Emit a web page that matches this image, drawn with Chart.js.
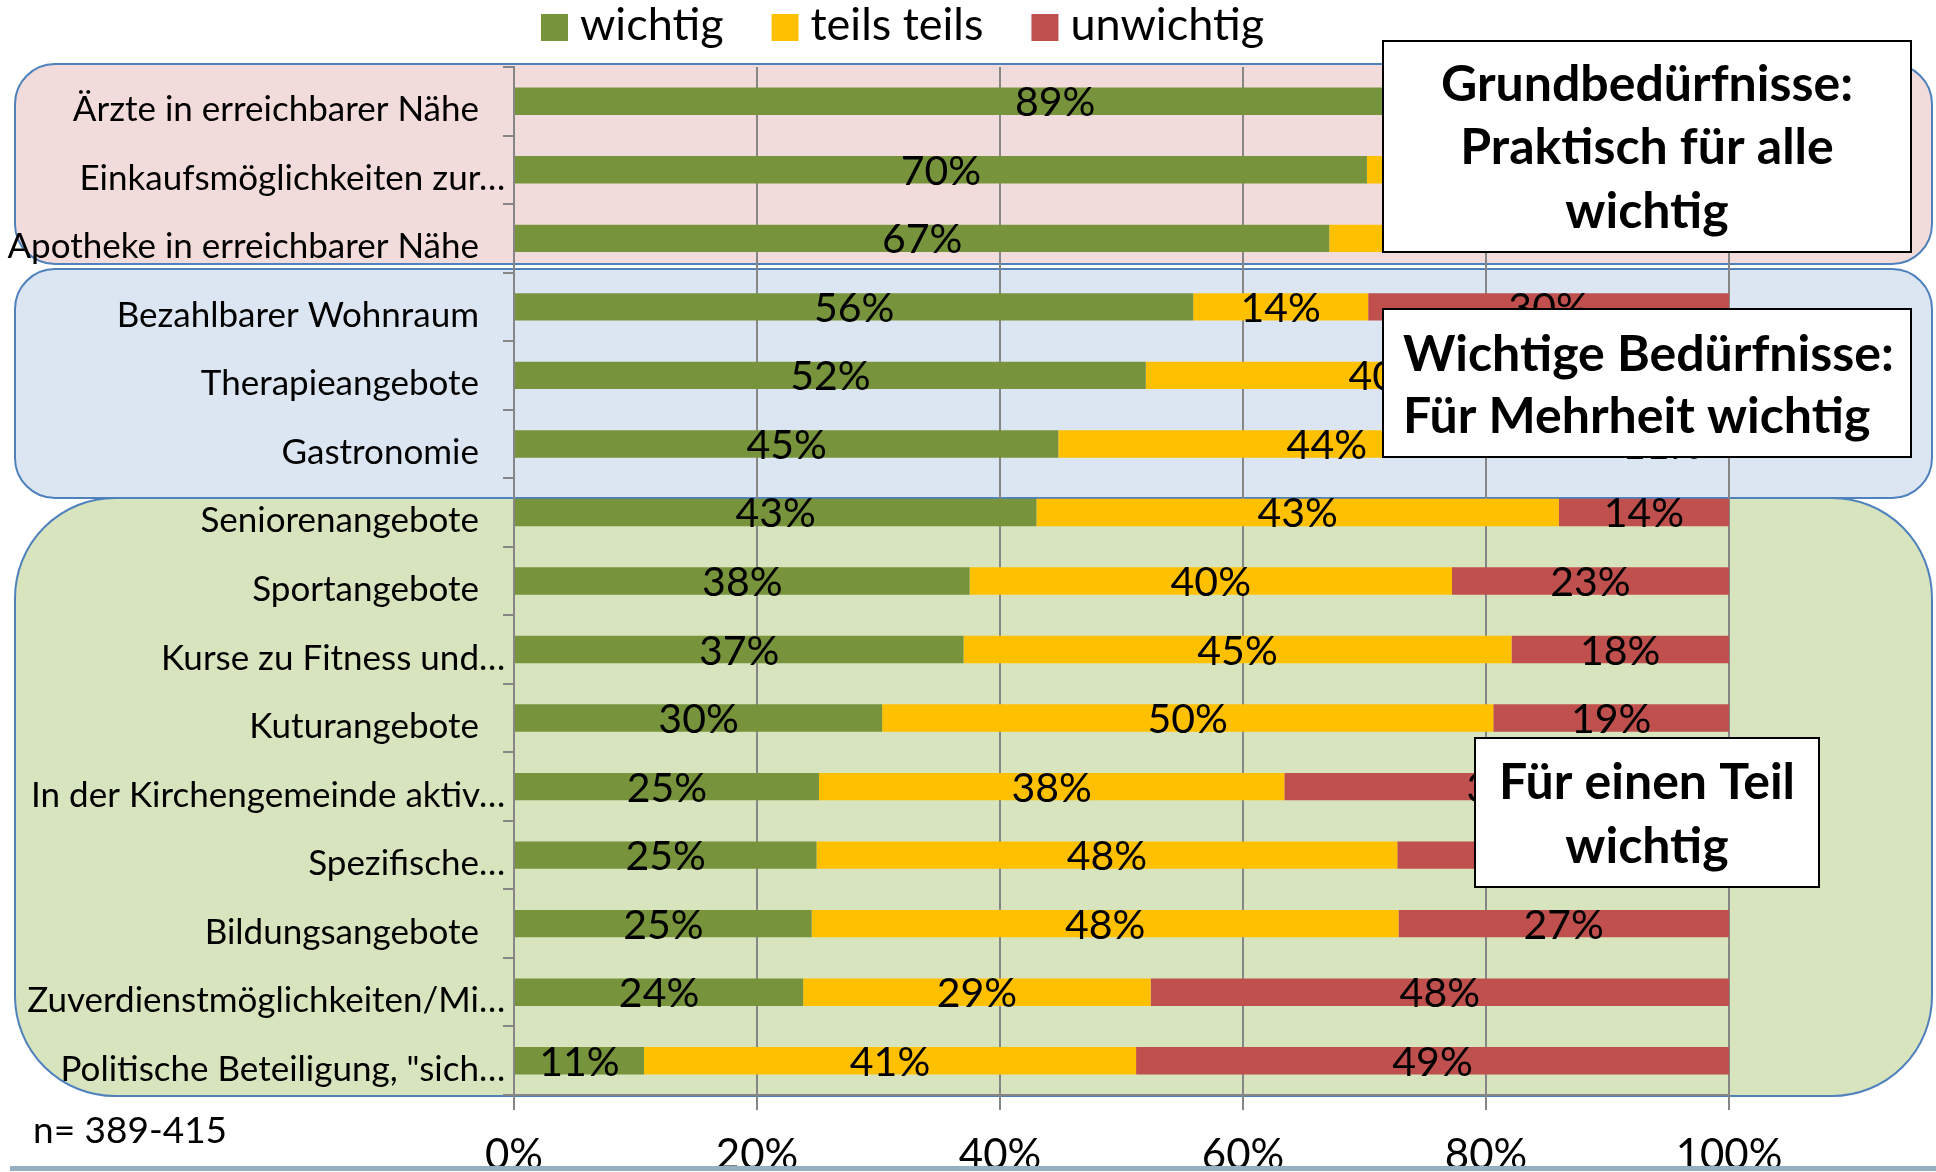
<!DOCTYPE html>
<html>
<head>
<meta charset="utf-8">
<script src="https://cdn.jsdelivr.net/npm/chart.js@4.4.1/dist/chart.umd.min.js"></script>
<style>
  body { margin: 0; background: #fff; }
  canvas { display: block; }
</style>
</head>
<body>
<canvas id="chart" width="1936" height="1172"></canvas>
<script>
var categories = [
    'Ärzte in erreichbarer Nähe',
    'Einkaufsmöglichkeiten zur…',
    'Apotheke in erreichbarer Nähe',
    'Bezahlbarer Wohnraum',
    'Therapieangebote',
    'Gastronomie',
    'Seniorenangebote',
    'Sportangebote',
    'Kurse zu Fitness und…',
    'Kuturangebote',
    'In der Kirchengemeinde aktiv…',
    'Spezifische…',
    'Bildungsangebote',
    'Zuverdienstmöglichkeiten/Mi…',
    'Politische Beteiligung, "sich…'
];
var seriesNames = ['wichtig', 'teils teils', 'unwichtig'];
var wichtig   = [89, 70.2, 67.1, 55.9, 52.0, 44.8, 43.0, 37.5, 37.0, 30.3, 25.1, 24.9, 24.5, 23.8, 10.7];
var teils     = [9, 25, 28, 14.4, 40, 44.2, 43, 39.7, 45.1, 50.3, 38.3, 47.8, 48.3, 28.6, 40.5];
var unwichtig = [2, 4.8, 4.9, 29.7, 8, 11, 14, 22.8, 17.9, 19.4, 36.6, 27.3, 27.2, 47.6, 48.8];
var xTicks = [0, 20, 40, 60, 80, 100];
var sampleNote = 'n= 389-415';

var FONT = 'Lato, "Open Sans", sans-serif';
var colors = ['#77933c', '#ffc000', '#c0504d'];

// background group panels (pink / blue / green)
var groups = [
    { x: 15, y: 64, w: 1917, h: 200, r: 40, fill: '#f2dcdb' },
    { x: 15, y: 269, w: 1917, h: 229, r: 40, fill: '#dce6f2' },
    { x: 15, y: 498, w: 1917, h: 598, r: 100, fill: '#d7e4bd' }
];

// white annotation boxes
var notes = [
    { x: 1383, y: 41, w: 528, h: 211, align: 'center', lines: ['Grundbedürfnisse:', 'Praktisch für alle', 'wichtig'], base: [101, 164, 228] },
    { x: 1383, y: 309, w: 528, h: 148, align: 'left', lines: ['Wichtige Bedürfnisse:', 'Für Mehrheit wichtig'], base: [371, 433] },
    { x: 1475, y: 738, w: 344, h: 149, align: 'center', lines: ['Für einen Teil', 'wichtig'], base: [799, 863] }
];

function roundedPath(ctx, x, y, w, h, r) {
    ctx.beginPath();
    ctx.moveTo(x + r, y);
    ctx.arcTo(x + w, y, x + w, y + h, r);
    ctx.arcTo(x + w, y + h, x, y + h, r);
    ctx.arcTo(x, y + h, x, y, r);
    ctx.arcTo(x, y, x + w, y, r);
    ctx.closePath();
}

var decoPlugin = {
    id: 'deco',
    beforeDraw: function (chart) {
        var ctx = chart.ctx;
        ctx.save();
        groups.forEach(function (g) {
            roundedPath(ctx, g.x, g.y, g.w, g.h, g.r);
            ctx.fillStyle = g.fill;
            ctx.fill();
            ctx.lineWidth = 2;
            ctx.strokeStyle = '#4f81bd';
            ctx.stroke();
        });
        ctx.restore();
    },
    afterDatasetsDraw: function (chart) {
        var ctx = chart.ctx;
        ctx.save();
        // value labels
        ctx.font = '41px ' + FONT;
        ctx.fillStyle = '#000';
        ctx.textAlign = 'center';
        ctx.textBaseline = 'alphabetic';
        chart.data.datasets.forEach(function (ds, i) {
            chart.getDatasetMeta(i).data.forEach(function (bar, j) {
                var cx = (bar.x + bar.base) / 2;
                ctx.fillText(Math.round(ds.data[j]) + '%', cx, bar.y + 15);
            });
        });
        // category labels, ellipsis hangs past the right edge
        var yScale = chart.scales.y;
        ctx.font = '35px ' + FONT;
        ctx.textAlign = 'right';
        var ell = ctx.measureText('…').width;
        chart.data.labels.forEach(function (lab, j) {
            var x = 479 + (lab.slice(-1) === '…' ? ell : 0);
            ctx.fillText(lab, x, yScale.getPixelForTick(j) + 20);
        });
        ctx.restore();
    },
    afterDraw: function (chart) {
        var ctx = chart.ctx;
        ctx.save();
        // annotation boxes
        notes.forEach(function (n) {
            ctx.fillStyle = '#fff';
            ctx.fillRect(n.x, n.y, n.w, n.h);
            ctx.lineWidth = 2;
            ctx.strokeStyle = '#000';
            ctx.strokeRect(n.x, n.y, n.w, n.h);
            ctx.fillStyle = '#000';
            ctx.font = 'bold 50px ' + FONT;
            ctx.textAlign = n.align;
            var tx = n.align === 'center' ? n.x + n.w / 2 : n.x + 20;
            n.lines.forEach(function (line, k) {
                ctx.fillText(line, tx, n.base[k]);
            });
        });
        // legend
        ctx.font = '45px ' + FONT;
        ctx.textAlign = 'left';
        var lx = 541;
        chart.data.datasets.forEach(function (ds) {
            ctx.fillStyle = ds.backgroundColor;
            ctx.fillRect(lx, 14, 27, 27);
            ctx.fillStyle = '#000';
            ctx.fillText(ds.label, lx + 39, 40);
            lx += 39 + ctx.measureText(ds.label).width + 48;
        });
        // sample size
        ctx.font = '37px ' + FONT;
        ctx.fillText(sampleNote, 33, 1143);
        // bottom rule
        ctx.fillStyle = '#93afc0';
        ctx.fillRect(10, 1166, 1926, 5);
        ctx.restore();
    }
};

var datasets = [wichtig, teils, unwichtig].map(function (vals, i) {
    return {
        label: seriesNames[i],
        data: vals,
        backgroundColor: colors[i],
        borderWidth: 0,
        categoryPercentage: 1,
        barPercentage: 0.4
    };
});

const ctx = document.getElementById('chart').getContext('2d');
new Chart(ctx, {
    type: 'bar',
    data: { labels: categories, datasets: datasets },
    plugins: [decoPlugin],
    options: {
        indexAxis: 'y',
        responsive: false,
        devicePixelRatio: 1,
        animation: false,
        layout: { padding: { top: 67, right: 207, left: 0, bottom: 0 } },
        plugins: { legend: { display: false }, tooltip: { enabled: false } },
        scales: {
            x: {
                stacked: true,
                min: 0,
                max: 100,
                afterBuildTicks: function (scale) {
                    scale.ticks = xTicks.map(function (v) { return { value: v }; });
                },
                afterFit: function (scale) { scale.height = 77; },
                grid: { color: '#868686', lineWidth: 2, tickLength: 15 },
                border: { color: '#868686', width: 2 },
                ticks: {
                    padding: 20,
                    color: '#000',
                    font: { family: FONT, size: 42 },
                    callback: function (v) { return v + '%'; }
                }
            },
            y: {
                stacked: true,
                afterFit: function (scale) { scale.width = 514; },
                grid: { drawOnChartArea: false, color: '#868686', lineWidth: 2, tickLength: 11 },
                border: { color: '#868686', width: 2 },
                ticks: { display: false }
            }
        }
    }
});
</script>
</body>
</html>
